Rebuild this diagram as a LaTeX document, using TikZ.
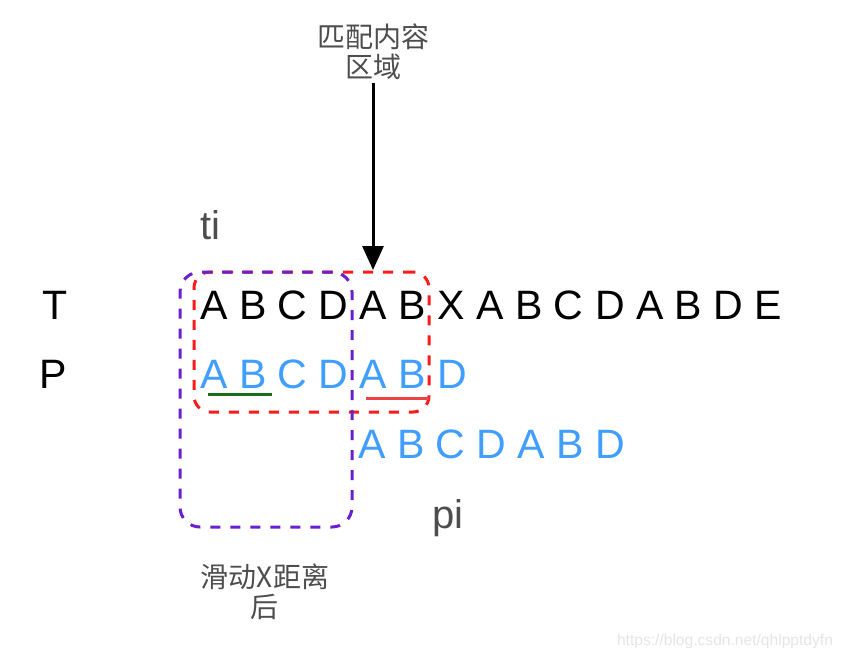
\documentclass[tikz,border=0pt]{standalone}
\usepackage{fontspec}
\setmainfont{Liberation Sans}
\newfontfamily\cjk{Noto Sans CJK SC}
\usetikzlibrary{arrows.meta}
\definecolor{txtgray}{HTML}{4D4D4D}
\definecolor{pblue}{HTML}{409EFF}
\definecolor{boxred}{HTML}{FF1A1A}
\definecolor{boxpurple}{HTML}{6A1FD1}
\definecolor{ulgreen}{HTML}{1A6B1A}
\definecolor{ulred}{HTML}{EA4444}
\begin{document}
\begin{tikzpicture}[x=0.75pt,y=-0.75pt,
  big/.style={inner sep=0pt,font=\fontsize{30.8}{37}\selectfont},
  lab/.style={inner sep=0pt,text=txtgray,font=\fontsize{30}{36}\selectfont},
  cjklab/.style={inner sep=2pt,text=txtgray,align=center,font=\cjk\fontsize{21}{22.5}\selectfont},
  dashbox/.style={draw,line width=2.25pt,dash pattern=on 7.5pt off 7.5pt,inner sep=0pt},
  uline/.style={line width=2.25pt},
  arr/.style={line width=2.25pt,-{Triangle[width=15.75pt,length=18pt]}}]
\useasboundingbox (0,0) rectangle (844,662);
% dashed boxes
\node[dashbox,draw=boxred,rounded corners=12pt,minimum width=176.25pt,minimum height=105pt] (match) at (311.5,342) {};
\node[dashbox,draw=boxpurple,rounded corners=15pt,minimum width=129pt,minimum height=191.25pt] (slide) at (266,399.5) {};
% row labels
\node[big,anchor=base west] (tlab) at (42,319) {T};
\node[big,anchor=base west] (plab) at (39,388) {P};
% rows
\node[big,anchor=base west] (trow) at (200,319) {A B C D A B X A B C D A B D E};
\node[big,anchor=base west,text=pblue] (prow) at (200,388) {A B C D A B D};
\node[big,anchor=base west,text=pblue] (prow2) at (358,458) {A B C D A B D};
% ti / pi
\node[lab,anchor=base west] (ti) at (200,239) {ti};
\node[lab,anchor=base west] (pi) at (432,528) {pi};
% underlines
\coordinate (g1) at (208,394); \coordinate (g2) at (272,394);
\coordinate (r1) at (366,398); \coordinate (r2) at (429,398);
\draw[uline,ulgreen] (g1) -- (g2);
\draw[uline,ulred] (r1) -- (r2);
% top label and arrow
\node[cjklab] (area) at (373,52) {匹配内容\\区域};
\coordinate (tip) at (373,270);
\draw[arr] (area.south) -- (tip);
% bottom label
\node[cjklab] (after) at (265,592) {滑动X距离\\后};
% watermark
\node[inner sep=0pt,text=black!10,font=\fontsize{11.7}{13}\selectfont] (wm) at (725,641) {https://blog.csdn.net/qhlpptdyfn};
\end{tikzpicture}
\end{document}
